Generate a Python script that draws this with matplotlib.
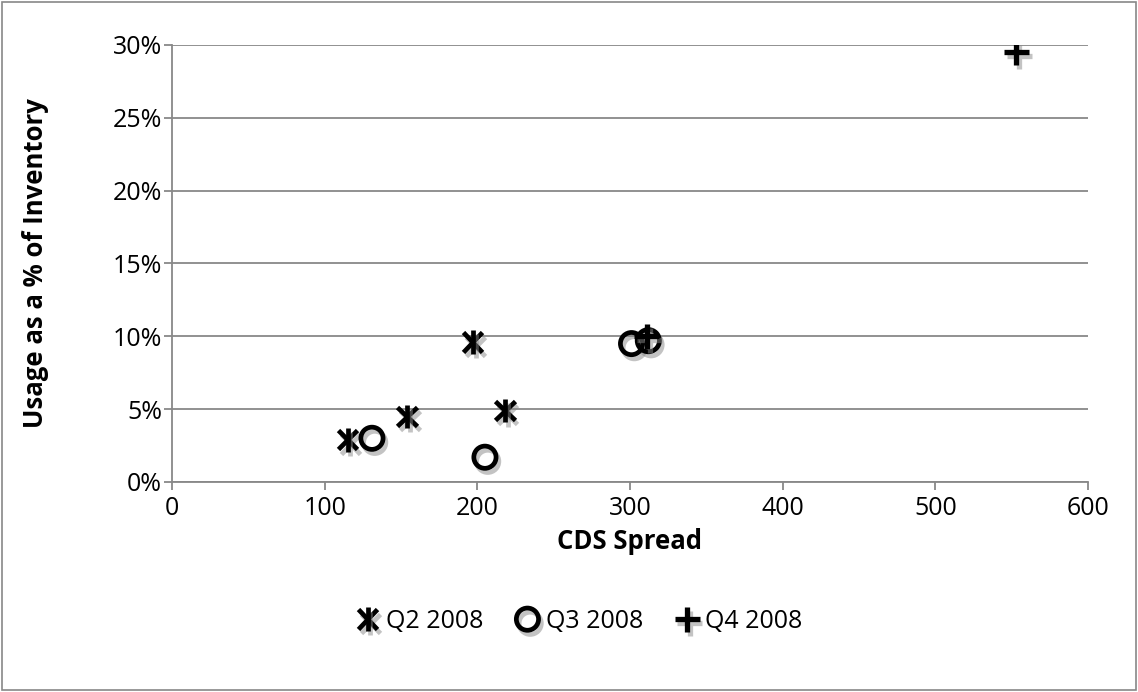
import matplotlib.pyplot as plt
import matplotlib.patheffects as pe
from matplotlib.patches import Rectangle
from matplotlib.ticker import FuncFormatter, MultipleLocator

plt.rcParams['font.family'] = ['Open Sans', 'DejaVu Sans']

# data
q2_spread = [115, 154, 197, 218]
q2_usage = [0.029, 0.045, 0.096, 0.049]
q3_spread = [131, 205, 301, 312]
q3_usage = [0.030, 0.017, 0.095, 0.097]
q4_spread = [553, 311]
q4_usage = [0.295, 0.100]
series_names = ['Q2 2008', 'Q3 2008', 'Q4 2008']

fig = plt.figure(figsize=(11.38, 6.92), dpi=100)
ax = fig.add_axes([0.1511, 0.3035, 0.805, 0.6315])

shadow = [pe.SimpleLineShadow(offset=(2, -3), shadow_color='#888888', alpha=0.5), pe.Normal()]

h_x, = ax.plot(q2_spread, q2_usage, ls='none', marker='x', ms=14, mew=3.4, color='black',
               path_effects=shadow, zorder=3)
h_v, = ax.plot(q2_spread, q2_usage, ls='none', marker='|', ms=17, mew=3.4, color='black',
               path_effects=shadow, zorder=3)
h_o, = ax.plot(q3_spread, q3_usage, ls='none', marker='o', ms=16, mew=3.4, color='black',
               mfc='none', path_effects=shadow, zorder=3)
h_p, = ax.plot(q4_spread, q4_usage, ls='none', marker='+', ms=18, mew=3.8, color='black',
               path_effects=shadow, zorder=4)

ax.set_xlim(0, 600)
ax.set_ylim(0, 0.30)
ax.xaxis.set_major_locator(MultipleLocator(100))
ax.yaxis.set_major_locator(MultipleLocator(0.05))
ax.yaxis.set_major_formatter(FuncFormatter(lambda v, p: f'{v * 100:.0f}%'))
ax.grid(axis='y', color='#888888', lw=1.3)
ax.set_axisbelow(True)
for s in ['top', 'right']:
    ax.spines[s].set_visible(False)
for s in ['left', 'bottom']:
    ax.spines[s].set_color('#888888')
    ax.spines[s].set_linewidth(1.3)
ax.tick_params(axis='x', direction='out', length=6, width=1.3, color='#888888', labelsize=18, pad=4)
ax.tick_params(axis='y', direction='out', length=6, width=1.3, color='#888888', labelsize=18, pad=1)
ax.set_xlabel('CDS Spread', fontsize=18.5, fontweight='bold', labelpad=5)
ax.set_ylabel('Usage as a % of Inventory', fontsize=18.5, fontweight='bold')
ax.yaxis.set_label_coords(-0.134, 0.5)

leg = fig.legend([(h_x, h_v), h_o, h_p], series_names, loc='center', bbox_to_anchor=(0.51, 0.102),
                 ncol=3, frameon=False, fontsize=18, handlelength=0.75, handletextpad=0.35,
                 columnspacing=1.4)

fig.patches.append(Rectangle((0.002, 0.003), 0.996, 0.994, transform=fig.transFigure,
                             fill=False, ec='#888888', lw=1.2))

fig.savefig('out.png', dpi=100)
